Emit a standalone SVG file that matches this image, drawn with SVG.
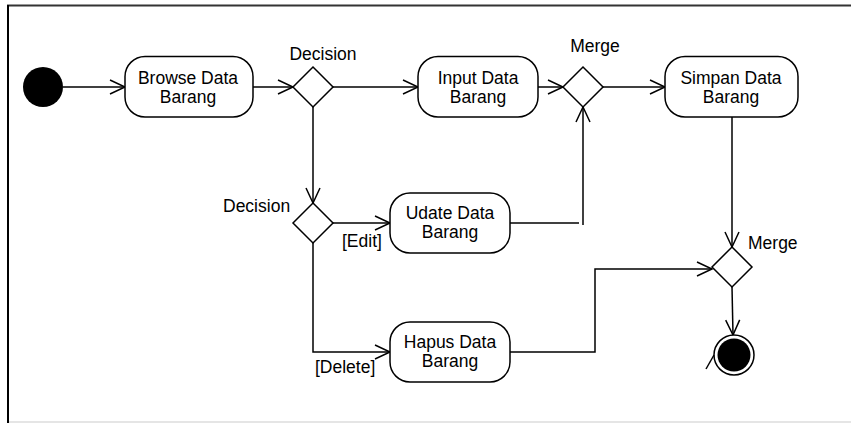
<svg xmlns="http://www.w3.org/2000/svg" width="851" height="423" viewBox="0 0 851 423">
<style>
.t{font-family:"Liberation Sans",Arial,sans-serif;font-size:17.5px;fill:#000}
.m{text-anchor:middle}
.act{fill:#fff;stroke:#000;stroke-width:1.5}
.dia{fill:#fff;stroke:#000;stroke-width:1.5}
.c{fill:none;stroke:#000;stroke-width:1.5}
</style>
<defs>
<marker id="arr" markerUnits="userSpaceOnUse" markerWidth="20" markerHeight="20" viewBox="-16 -10 20 20" refX="0" refY="0" orient="auto" overflow="visible">
<path d="M-15,-7 L0,0 L-15,7" fill="none" stroke="#000" stroke-width="1.5"/>
</marker>
</defs>
<rect x="0" y="0" width="851" height="423" fill="#fff"/>
<g id="frame">
<line x1="7" y1="5.5" x2="851" y2="5.5" stroke="#333" stroke-width="2"/>
<line x1="8" y1="5" x2="8" y2="423" stroke="#000" stroke-width="2"/>
<line x1="9" y1="422" x2="851" y2="422" stroke="#ddd" stroke-width="1.5"/>
</g>
<g id="connectors">
<line class="c" x1="63" y1="87" x2="125" y2="87" marker-end="url(#arr)"/>
<line class="c" x1="253" y1="87" x2="293" y2="87" marker-end="url(#arr)"/>
<line class="c" x1="333" y1="87" x2="418" y2="87" marker-end="url(#arr)"/>
<line class="c" x1="538" y1="87" x2="563" y2="87" marker-end="url(#arr)"/>
<line class="c" x1="603" y1="87" x2="665" y2="87" marker-end="url(#arr)"/>
<line class="c" x1="313" y1="107" x2="313" y2="203" marker-end="url(#arr)"/>
<line class="c" x1="333" y1="223" x2="390" y2="223" marker-end="url(#arr)"/>
<polyline class="c" points="510,223 579,223"/>
<line class="c" x1="583" y1="225" x2="583" y2="107" marker-end="url(#arr)"/>
<polyline class="c" points="313,242 313,352 390,352" marker-end="url(#arr)"/>
<polyline class="c" points="510,352 595,352 595,269 712,269" marker-end="url(#arr)"/>
<line class="c" x1="732" y1="117" x2="732" y2="247" marker-end="url(#arr)"/>
<line class="c" x1="732" y1="287" x2="733" y2="335" marker-end="url(#arr)"/>
<text class="t" x="342" y="247">[Edit]</text>
<text class="t" x="315" y="373">[Delete]</text>
</g>
<g id="start">
<circle cx="43" cy="87" r="20" fill="#000"/>
</g>
<g id="browse">
<rect class="act" x="125" y="56.5" width="128" height="60.5" rx="20" ry="20"/>
<text class="t m" x="188" y="84">Browse Data</text>
<text class="t m" x="188" y="103">Barang</text>
</g>
<g id="decision1">
<polygon class="dia" points="313,67 333,87 313,107 293,87"/>
<text class="t m" x="323" y="60">Decision</text>
</g>
<g id="input">
<rect class="act" x="418" y="56.5" width="120" height="60.5" rx="20" ry="20"/>
<text class="t m" x="478" y="84">Input Data</text>
<text class="t m" x="478" y="103">Barang</text>
</g>
<g id="merge1">
<polygon class="dia" points="583,67 603,87 583,107 563,87"/>
<text class="t m" x="595" y="52">Merge</text>
</g>
<g id="simpan">
<rect class="act" x="665" y="56.5" width="133" height="60.5" rx="20" ry="20"/>
<text class="t m" x="731" y="84">Simpan Data</text>
<text class="t m" x="731" y="103">Barang</text>
</g>
<g id="decision2">
<polygon class="dia" points="313,203 333,223 313,243 293,223"/>
<text class="t" x="223" y="212">Decision</text>
</g>
<g id="udate">
<rect class="act" x="390" y="193" width="120" height="60" rx="20" ry="20"/>
<text class="t m" x="450" y="219">Udate Data</text>
<text class="t m" x="450" y="238">Barang</text>
</g>
<g id="hapus">
<rect class="act" x="390" y="322" width="120" height="60" rx="20" ry="20"/>
<text class="t m" x="450" y="348">Hapus Data</text>
<text class="t m" x="450" y="367">Barang</text>
</g>
<g id="merge2">
<polygon class="dia" points="732,247 752,267 732,287 712,267"/>
<text class="t" x="748" y="249">Merge</text>
</g>
<g id="final">
<circle cx="734" cy="355" r="20" fill="#fff" stroke="#000" stroke-width="1.5"/>
<circle cx="734" cy="355" r="16.5" fill="#000"/>
<line x1="706" y1="369" x2="714" y2="355" stroke="#000" stroke-width="1.5"/>
</g>
</svg>
